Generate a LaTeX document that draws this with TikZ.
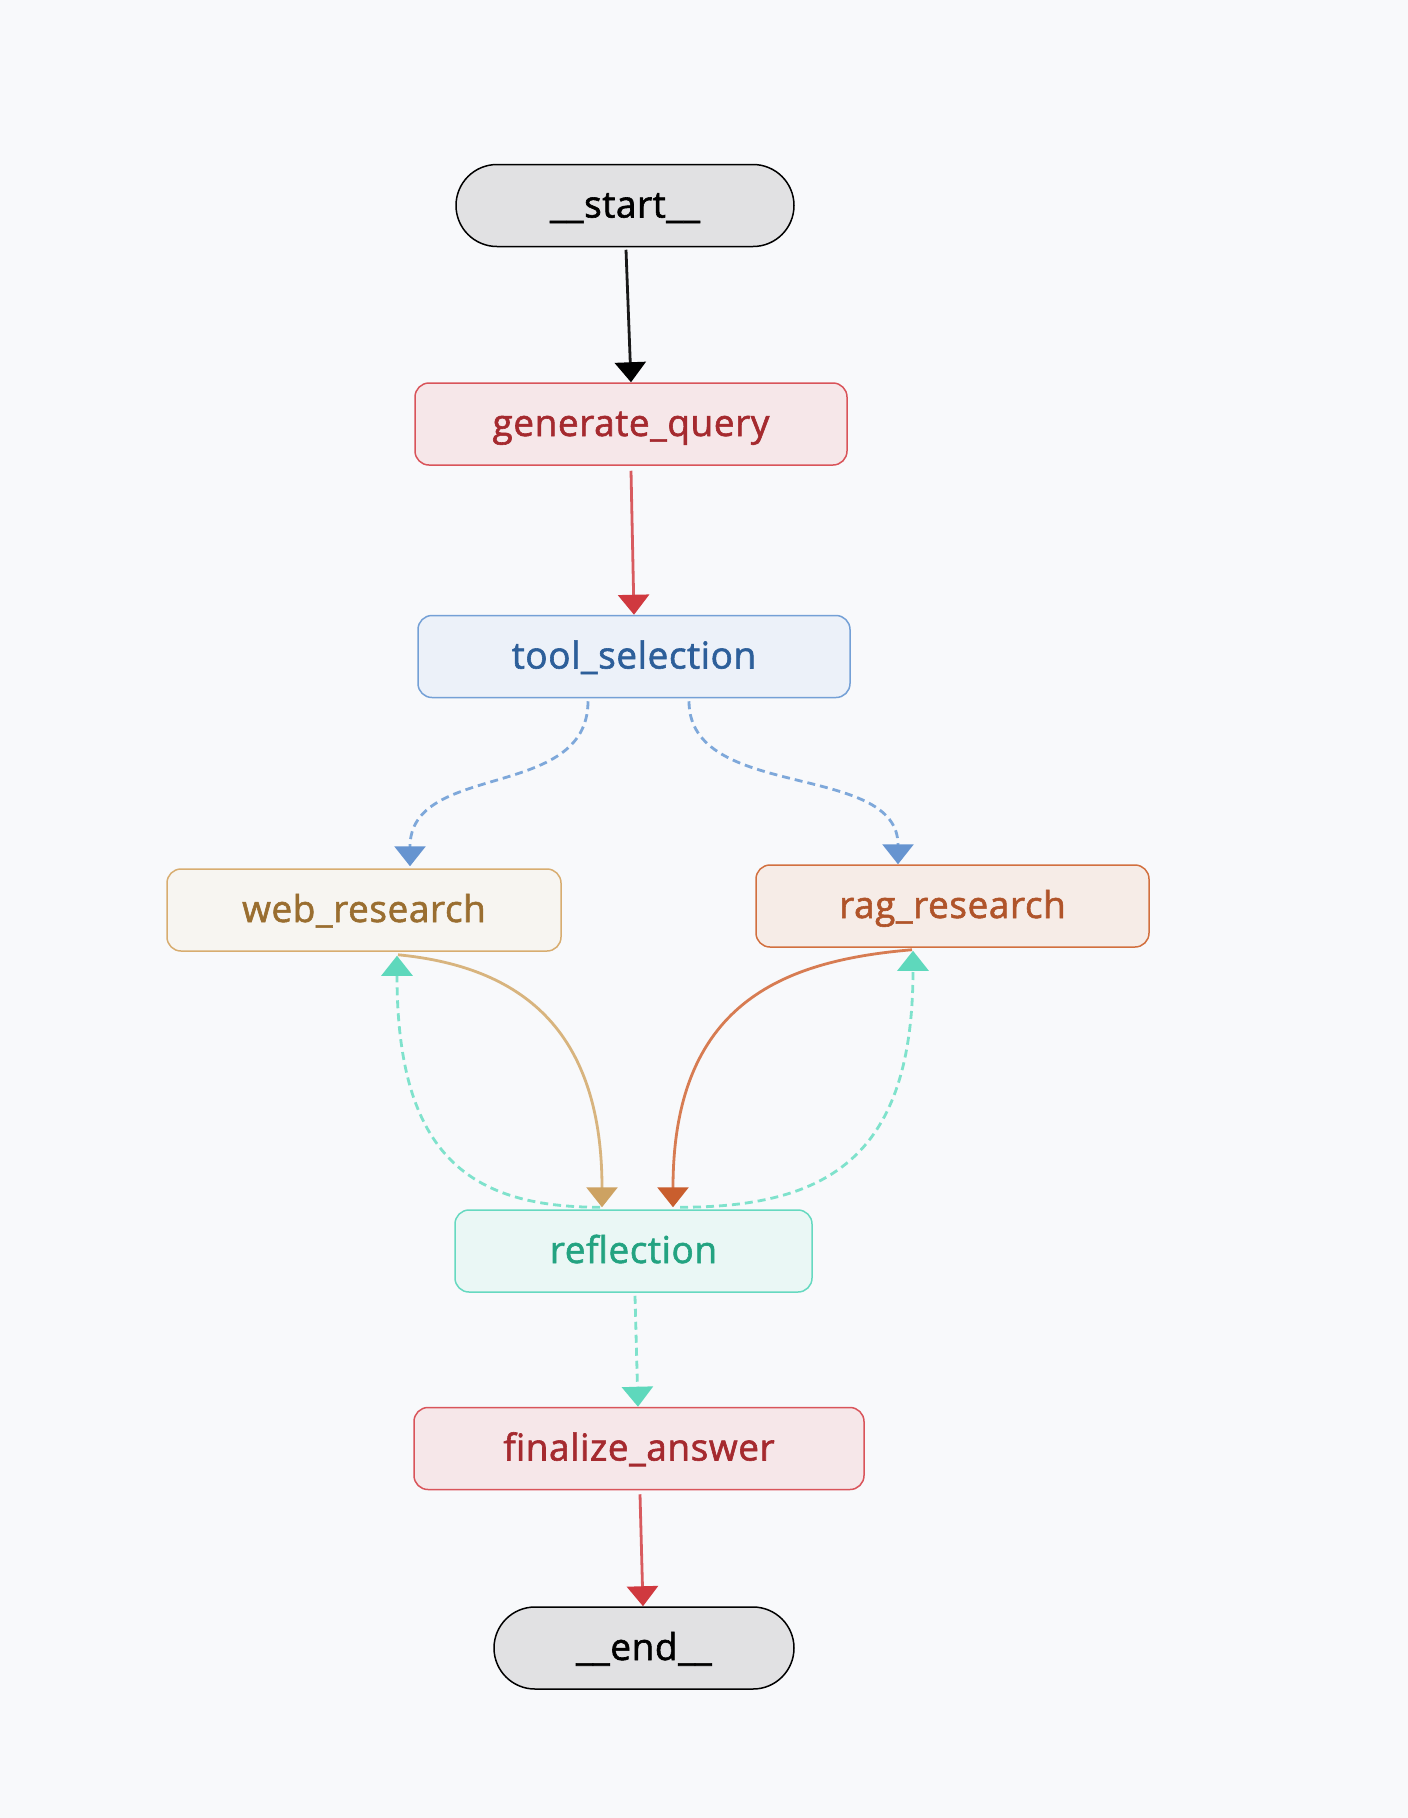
\documentclass[tikz,border=0pt]{standalone}
\usepackage{fontspec}
\setmainfont{Open Sans}[FakeBold=1.6, LetterSpace=1.5]
\usetikzlibrary{arrows.meta,calc}
\definecolor{bg}{HTML}{F8F9FB}
\definecolor{pillfill}{HTML}{E1E1E3}
\definecolor{genfill}{HTML}{F6E7E9}
\definecolor{gendraw}{HTML}{D9545A}
\definecolor{gentext}{HTML}{A52A2F}
\definecolor{toolfill}{HTML}{ECF1F9}
\definecolor{tooldraw}{HTML}{74A0D6}
\definecolor{tooltext}{HTML}{2D5F9A}
\definecolor{webfill}{HTML}{F7F5F1}
\definecolor{webdraw}{HTML}{D8AD70}
\definecolor{webtext}{HTML}{9A6E30}
\definecolor{ragfill}{HTML}{F6ECE7}
\definecolor{ragdraw}{HTML}{D2703F}
\definecolor{ragtext}{HTML}{B0542A}
\definecolor{reflfill}{HTML}{EAF7F5}
\definecolor{refldraw}{HTML}{66D9C0}
\definecolor{refltext}{HTML}{23A381}
\definecolor{redline}{HTML}{D85B5F}
\definecolor{redtip}{HTML}{D0393F}
\definecolor{blueline}{HTML}{7EA8DA}
\definecolor{bluetip}{HTML}{6694D0}
\definecolor{tanline}{HTML}{D8B47E}
\definecolor{tantip}{HTML}{CDA262}
\definecolor{orline}{HTML}{D77C52}
\definecolor{ortip}{HTML}{C95E2E}
\definecolor{tealline}{HTML}{7FE2CC}
\definecolor{tealtip}{HTML}{5ED8BC}
\begin{document}
\begin{tikzpicture}[x=1pt,y=-1pt,
  box/.style={draw, line width=1.5pt, rounded corners=14pt, minimum height=82pt,
    inner sep=0pt, text height=31pt, text depth=7pt,
    font=\fontsize{37}{44}\selectfont},
  pill/.style={box, rounded corners=41pt, fill=pillfill, draw=black, text=black},
  redbox/.style={box, fill=genfill, draw=gendraw, text=gentext},
  edge/.style={line width=2.8pt},
  tipof/.style={-{Triangle[length=20pt,width=31pt,color=#1]}},
  dashy/.style={dash pattern=on 8pt off 5pt},
]
\useasboundingbox[fill=bg] (0,0) rectangle (1408,1818);

\node[pill, minimum width=338pt] (startn) at (625,205.5) {\_\_start\_\_};
\node[redbox, minimum width=432pt] (gen) at (631,424) {generate\_query};
\node[box, minimum width=432pt, fill=toolfill, draw=tooldraw, text=tooltext] (tool) at (634,656.5) {tool\_selection};
\node[box, minimum width=394pt, fill=webfill, draw=webdraw, text=webtext] (web) at (364,910) {web\_research};
\node[box, minimum width=393pt, fill=ragfill, draw=ragdraw, text=ragtext] (rag) at (952.5,906) {rag\_research};
\node[box, minimum width=357pt, fill=reflfill, draw=refldraw, text=refltext] (refl) at (633.5,1251) {reflection};
\node[redbox, minimum width=450pt] (fin) at (639,1448.5) {finalize\_answer};
\node[pill, minimum width=300pt] (endn) at (644,1648) {\_\_end\_\_};

\draw[edge, draw=black!90, tipof=black] ($(startn.south)+(1,2.5)$) -- (gen.north);
\draw[edge, draw=redline, tipof=redtip] ($(gen.south)+(0,5)$) -- (tool.north);
\draw[edge, dashy, draw=blueline, tipof=bluetip] ($(tool.south)+(-46,3)$)
  .. controls +(0,100) and +(0,-105) .. ($(web.north)+(46,-2)$);
\draw[edge, dashy, draw=blueline, tipof=bluetip] ($(tool.south)+(55,3)$)
  .. controls +(0,100) and +(0,-103) .. ($(rag.north)+(-54.5,0)$);
\draw[edge, draw=tanline, tipof=tantip] ($(web.south)+(34,3)$)
  .. controls +(112,11) and +(0,-188) .. ($(refl.north)+(-31.5,-2)$);
\draw[edge, dashy, draw=tealline, tipof=tealtip] ($(refl.north)+(-33.5,-2)$)
  .. controls +(-130,0) and +(0,200) .. ($(web.south)+(33,4)$);
\draw[edge, draw=orline, tipof=ortip] ($(rag.south)+(-40.5,2)$)
  .. controls +(-131,11) and +(0,-203) .. ($(refl.north)+(39.5,-2)$);
\draw[edge, dashy, draw=tealline, tipof=tealtip] ($(refl.north)+(46.5,-2)$)
  .. controls +(149,0) and +(0,205) .. ($(rag.south)+(-39.5,3)$);
\draw[edge, dashy, draw=tealline, tipof=tealtip] ($(refl.south)+(1.5,3)$) -- ($(fin.north)+(-1,0)$);
\draw[edge, draw=redline, tipof=redtip] ($(fin.south)+(1,4)$) -- ($(endn.north)+(-1,0)$);
\end{tikzpicture}
\end{document}
